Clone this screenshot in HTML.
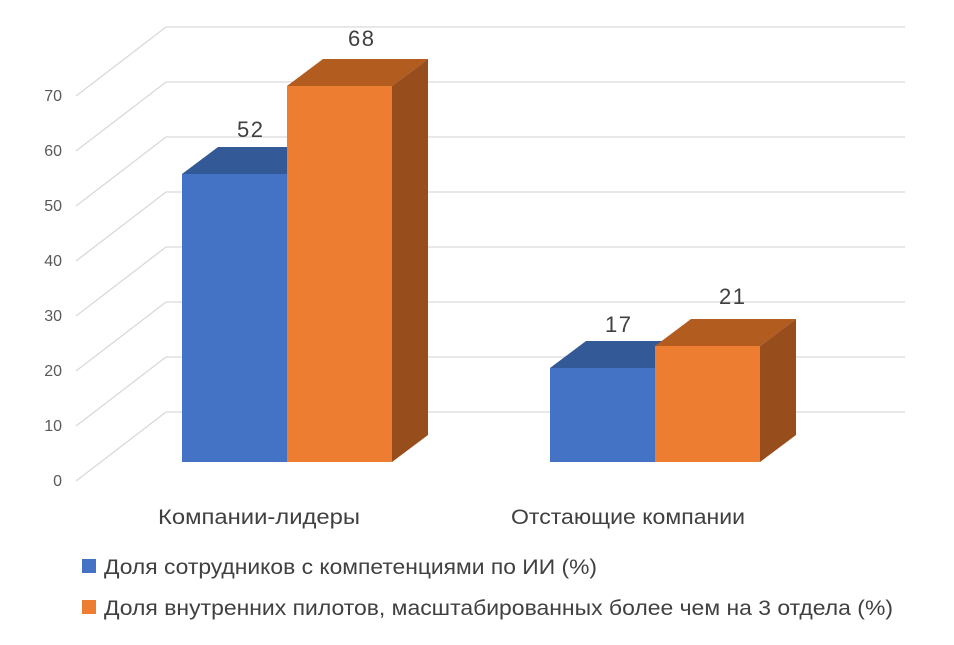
<!DOCTYPE html>
<html><head><meta charset="utf-8"><style>
body{margin:0;background:#fff}
text{font-family:"Liberation Sans",sans-serif}
</style></head><body>
<svg width="954" height="640" xmlns="http://www.w3.org/2000/svg">
<g stroke="#d9d9d9" stroke-width="1.3" fill="none">
<path d="M166 27H905M166 82H905M166 137H905M166 192H905M166 247H905M166 302H905M166 357H905M166 412H905"/>
<path d="M76 96L166 27M76 151L166 82M76 206L166 137M76 261L166 192M76 316L166 247M76 371L166 302M76 426L166 357M76 481L166 412"/>
</g>
<g font-size="16" fill="#595959" text-anchor="end">
<text x="62" y="101">70</text><text x="62" y="156">60</text><text x="62" y="211">50</text><text x="62" y="266">40</text><text x="62" y="321">30</text><text x="62" y="376">20</text><text x="62" y="431">10</text><text x="62" y="486">0</text>
</g>
<polygon points="182,174 287,174 323,147 218,147" fill="#335a96"/>
<rect x="182" y="174" width="105" height="288" fill="#4472c4"/>
<polygon points="287,86 392,86 428,59 323,59" fill="#b35c20"/>
<polygon points="392,86 428,59 428,435 392,462" fill="#974d1c"/>
<rect x="287" y="86" width="105" height="376" fill="#ed7d31"/>
<polygon points="550,368 655,368 691,341 586,341" fill="#335a96"/>
<rect x="550" y="368" width="105" height="94" fill="#4472c4"/>
<polygon points="655,346 760,346 796,319 691,319" fill="#b35c20"/>
<polygon points="760,346 796,319 796,435 760,462" fill="#974d1c"/>
<rect x="655" y="346" width="105" height="116" fill="#ed7d31"/>
<g font-size="22" fill="#404040">
<text x="237" y="137" textLength="26">52</text><text x="348" y="46" textLength="26">68</text>
<text x="605" y="332" textLength="26">17</text><text x="719" y="304" textLength="26">21</text>
</g>
<g font-size="21" fill="#404040">
<text x="158" y="524" textLength="202" lengthAdjust="spacingAndGlyphs">Компании-лидеры</text>
<text x="511" y="524" textLength="234" lengthAdjust="spacingAndGlyphs">Отстающие компании</text>
</g>
<rect x="82" y="559" width="14" height="14" fill="#4472c4"/>
<rect x="82" y="600" width="14" height="14" fill="#ed7d31"/>
<g font-size="21" fill="#404040">
<text x="104" y="574" textLength="493" lengthAdjust="spacingAndGlyphs">Доля сотрудников с компетенциями по ИИ (%)</text>
<text x="104" y="615" textLength="789" lengthAdjust="spacingAndGlyphs">Доля внутренних пилотов, масштабированных более чем на 3 отдела (%)</text>
</g>
</svg>
</body></html>
